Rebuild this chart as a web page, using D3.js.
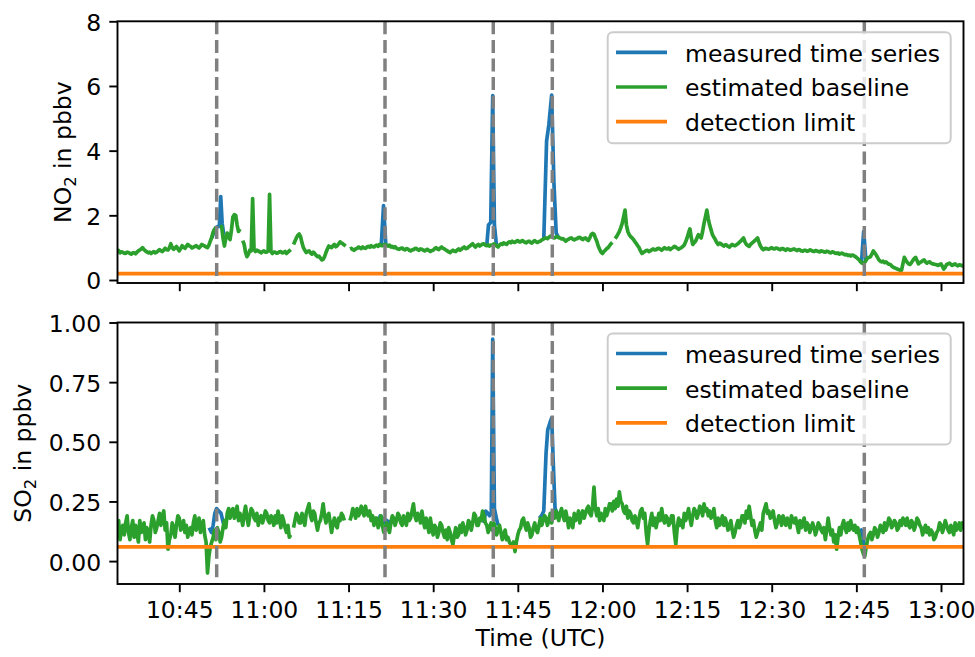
<!DOCTYPE html>
<html><head><meta charset="utf-8">
<script src="https://cdn.jsdelivr.net/npm/d3@7"></script>
<style>
body{margin:0;background:#fff}
svg{display:block}
text{font-family:"DejaVu Sans",sans-serif;fill:#000}
</style>
</head><body>
<svg id="chart" width="975" height="657"></svg>
<script>
// ---------- DATA (minutes after 10:00 UTC) ----------
const gridStartMin = 34;      // first baseline sample, 10:34
const gridStepMin = 0.25;     // 15 s sampling
const xDomainMin = [34.05, 183.99];
const xTickMinutes = [45, 60, 75, 90, 105, 120, 135, 150, 165, 180];

// each row = 5 minutes
const no2Baseline = [
  0.88,0.91,0.84,0.87,0.86,0.83,0.82,0.86,0.85,0.82,0.80,0.84,0.84,0.81,0.86,0.90,0.93,0.96,1.00,0.94,
  0.90,0.87,0.84,0.86,0.82,0.85,0.88,0.84,0.86,0.90,0.94,0.90,0.88,0.93,0.98,0.94,0.93,1.00,1.12,1.00,
  0.95,0.99,1.04,0.96,0.90,0.97,1.06,1.01,0.98,1.04,1.10,1.06,1.04,0.99,1.01,1.04,1.06,1.02,0.99,1.04,
  1.10,1.07,1.05,1.02,1.00,1.08,1.20,1.32,1.48,1.56,1.62,1.60,null,1.64,1.66,1.30,1.05,1.30,1.45,1.32,
  1.25,1.55,1.95,2.02,2.00,1.70,1.50,1.58,null,1.22,1.10,0.85,0.72,0.80,0.92,0.90,2.52,0.95,0.88,0.92,
  0.90,0.87,0.84,0.88,0.90,0.86,0.86,0.90,2.65,0.88,0.82,0.86,0.86,0.83,0.84,0.87,0.88,0.84,0.85,0.88,
  0.82,0.86,0.90,0.94,null,1.10,1.20,1.30,1.38,1.42,1.34,1.15,1.00,0.92,0.85,0.88,0.90,0.84,0.80,0.86,
  0.82,0.76,0.72,0.74,0.68,0.62,0.64,0.72,0.85,0.96,1.05,1.02,1.00,1.06,1.10,1.03,1.06,1.12,1.18,1.14,
  1.12,1.08,1.05,null,null,0.96,0.98,0.94,0.92,0.96,0.98,1.02,1.00,0.97,1.02,0.99,0.98,1.02,1.04,1.01,
  1.06,1.03,1.02,1.06,1.08,1.04,1.10,1.07,1.06,1.09,1.10,1.07,1.05,1.08,1.02,1.04,1.00,1.03,0.98,0.96,
  0.95,0.98,0.99,0.95,0.93,0.97,0.96,0.92,0.90,0.93,0.94,0.97,0.98,0.94,0.92,0.96,0.95,0.92,0.90,0.93,
  0.95,0.91,0.88,0.91,0.92,0.97,1.00,0.96,0.94,0.99,1.02,0.98,0.96,0.93,0.90,0.87,0.85,0.89,0.92,0.89,
  0.88,0.93,0.96,0.92,0.95,0.99,1.02,0.97,0.98,1.02,1.05,1.09,1.12,1.06,1.02,1.07,1.10,1.05,1.08,1.11,
  1.12,1.08,1.06,1.09,1.05,1.08,1.08,1.12,1.10,1.05,1.02,1.08,1.12,1.10,1.15,1.12,1.10,1.15,1.18,1.15,
  1.20,1.17,1.16,1.20,1.22,1.18,1.18,1.22,1.20,1.16,1.15,1.19,1.20,1.16,1.14,1.19,1.22,1.18,1.16,1.19,
  1.20,1.24,1.26,1.29,1.30,1.28,1.32,1.36,1.35,1.31,1.30,1.33,1.34,1.31,1.30,1.27,1.28,1.24,1.20,1.24,
  1.26,1.29,1.30,1.26,1.24,1.27,1.28,1.31,1.32,1.28,1.25,1.29,1.30,1.25,1.22,1.30,1.40,1.44,1.42,1.30,
  1.20,1.05,0.95,0.86,0.82,0.88,0.92,0.97,1.00,1.06,1.12,1.16,null,1.28,1.34,1.42,1.50,1.62,1.75,1.95,
  2.16,1.70,1.50,1.40,1.34,1.30,1.25,1.18,1.13,1.06,1.00,0.90,0.82,0.85,0.88,0.91,0.92,0.88,0.90,0.94,
  0.96,0.93,0.94,0.97,0.98,0.95,0.92,0.96,1.00,0.97,0.96,0.99,0.94,0.98,1.00,1.04,1.02,0.98,0.95,0.98,
  1.00,1.04,1.08,1.18,1.30,1.45,1.58,1.30,1.10,1.15,1.20,1.30,1.40,1.35,1.30,1.50,1.75,1.95,2.16,1.90,
  1.70,1.55,1.40,1.32,1.25,1.16,1.10,1.14,1.12,1.08,1.05,1.09,1.08,1.04,1.02,1.06,1.10,1.07,1.06,1.09,
  1.12,1.16,1.20,1.25,1.30,1.18,1.10,1.07,1.04,1.10,1.14,1.18,1.22,1.26,1.30,1.16,1.05,0.98,0.94,0.97,
  0.98,0.96,0.95,0.98,1.00,0.97,0.96,0.99,0.98,0.95,0.94,0.97,0.97,0.94,0.92,0.96,0.95,0.92,0.93,0.95,
  0.96,0.93,0.91,0.94,0.93,0.90,0.89,0.92,0.92,0.89,0.90,0.93,0.92,0.89,0.88,0.91,0.90,0.88,0.87,0.90,
  0.89,0.87,0.86,0.89,0.88,0.85,0.84,0.87,0.86,0.83,0.82,0.84,0.80,0.82,0.83,0.80,0.78,0.79,0.76,0.77,
  0.74,0.77,0.76,0.73,0.70,0.66,0.62,0.56,0.52,0.50,0.55,0.62,0.68,0.70,0.72,0.80,0.90,0.84,0.78,0.70,
  0.62,0.58,0.56,0.58,0.54,0.56,0.52,0.49,0.48,0.44,0.40,0.38,0.36,0.34,0.32,0.30,0.30,0.50,0.70,0.62,
  0.55,0.50,0.48,0.53,0.60,0.66,0.70,0.60,0.50,0.54,0.56,0.60,0.62,0.56,0.52,0.55,0.56,0.52,0.50,0.49,
  0.48,0.47,0.45,0.48,0.50,0.42,0.34,0.40,0.48,0.50,0.52,0.48,0.45,0.48,0.50,0.46,0.44,0.47,0.46,0.44,
  0.46
];

const so2Baseline = [
  0.13,0.17,0.09,0.13,0.15,0.11,0.16,0.19,0.12,0.09,0.14,0.17,0.10,0.15,0.12,0.08,0.17,0.12,0.13,0.16,
  0.09,0.14,0.12,0.08,0.15,0.19,0.17,0.12,0.14,0.17,0.20,0.15,0.19,0.21,0.13,0.16,0.05,0.09,0.11,0.16,
  0.14,0.10,0.15,0.19,0.18,0.13,0.14,0.17,0.12,0.15,0.10,0.13,0.14,0.11,0.16,0.19,0.13,0.16,0.18,0.12,
  0.14,0.17,0.11,0.08,-0.05,0.02,0.06,0.08,0.10,0.13,0.09,0.14,0.12,0.08,0.10,0.14,0.17,0.14,0.20,0.22,
  0.18,0.21,0.22,0.18,0.20,0.23,0.17,0.20,0.18,0.15,0.20,0.23,0.18,0.15,0.19,0.22,0.21,0.18,0.17,0.20,
  0.15,0.18,0.19,0.16,0.18,0.21,0.20,0.17,0.16,0.19,0.18,0.15,0.19,0.16,0.21,0.18,0.14,0.19,0.17,0.14,
  0.12,0.15,0.10,0.11,null,0.14,0.17,0.20,0.19,0.16,0.16,0.20,0.18,0.15,0.20,0.22,0.24,0.19,0.17,0.21,
  0.20,0.16,0.13,0.16,0.17,0.20,0.24,0.19,0.16,0.19,0.20,0.16,0.12,0.16,0.18,0.15,0.14,0.18,0.17,0.20,
  0.19,0.17,null,null,null,0.17,0.19,0.22,0.21,0.18,0.22,0.19,0.20,0.23,0.21,0.19,0.23,0.20,0.19,0.21,
  0.17,0.19,0.15,0.18,0.18,0.14,0.16,0.19,0.15,0.12,0.13,0.16,0.14,0.12,0.16,0.19,0.18,0.15,0.17,0.20,
  0.19,0.16,0.15,0.19,0.17,0.15,0.20,0.17,0.18,0.21,0.24,0.19,0.17,0.20,0.19,0.16,0.21,0.17,0.14,0.18,
  0.15,0.12,0.18,0.14,0.11,0.15,0.14,0.10,0.12,0.16,0.15,0.12,0.10,0.13,0.09,0.14,0.12,0.09,0.07,0.11,
  0.14,0.10,0.11,0.15,0.12,0.16,0.14,0.11,0.13,0.17,0.16,0.13,0.16,0.20,0.19,0.15,0.15,0.18,0.17,0.21,
  0.19,0.16,0.15,0.12,0.14,0.16,0.13,0.16,0.14,0.11,0.13,0.15,0.12,0.09,0.11,0.13,0.09,0.10,0.08,0.07,
  0.06,0.08,0.04,0.08,0.11,0.13,0.14,0.17,0.18,0.15,0.13,0.16,0.14,0.10,0.11,0.14,0.16,0.13,0.12,0.15,
  0.18,0.15,0.17,0.19,0.18,0.15,0.17,0.20,0.16,0.19,0.18,0.21,0.19,0.17,0.20,0.22,0.19,0.17,0.21,0.18,
  0.14,0.18,0.17,0.14,0.20,0.17,0.18,0.21,0.16,0.19,0.21,0.18,0.20,0.22,0.23,0.20,0.19,0.23,0.31,0.22,
  0.19,0.22,0.17,0.20,0.19,0.17,0.22,0.19,0.21,0.24,0.24,0.21,0.25,0.22,0.26,0.23,0.29,0.25,0.24,0.21,
  0.20,0.23,0.18,0.21,0.20,0.17,0.16,0.19,0.17,0.14,0.18,0.21,0.22,0.18,0.20,0.12,0.07,0.13,0.17,0.20,
  0.15,0.18,0.14,0.17,0.20,0.17,0.22,0.18,0.16,0.19,0.18,0.15,0.16,0.19,0.19,0.12,0.07,0.14,0.18,0.15,
  0.17,0.14,0.20,0.17,0.19,0.22,0.18,0.15,0.19,0.22,0.21,0.18,0.20,0.23,0.22,0.19,0.24,0.21,0.22,0.19,
  0.21,0.18,0.19,0.22,0.17,0.14,0.18,0.15,0.16,0.19,0.15,0.18,0.16,0.13,0.14,0.17,0.13,0.10,0.12,0.15,
  0.17,0.14,0.16,0.19,0.19,0.16,0.21,0.18,0.23,0.19,0.15,0.17,0.13,0.10,0.12,0.14,0.16,0.13,0.20,0.22,
  0.24,0.20,0.21,0.18,0.19,0.21,0.17,0.14,0.16,0.19,0.18,0.15,0.19,0.17,0.15,0.18,0.17,0.14,0.19,0.17,
  0.16,0.18,0.15,0.12,0.17,0.14,0.16,0.18,0.13,0.16,0.15,0.12,0.14,0.16,0.14,0.11,0.13,0.16,0.15,0.13,
  0.12,0.14,0.09,0.13,0.18,0.14,0.11,0.13,0.08,0.11,0.05,0.10,0.14,0.11,0.15,0.17,0.14,0.12,0.16,0.13,
  0.17,0.14,0.13,0.15,0.12,0.14,0.11,0.08,0.05,0.03,0.02,0.06,0.09,0.11,0.12,0.09,0.11,0.14,0.13,0.10,
  0.12,0.15,0.14,0.12,0.16,0.13,0.15,0.18,0.17,0.14,0.15,0.17,0.16,0.13,0.14,0.17,0.15,0.18,0.17,0.15,
  0.18,0.15,0.14,0.17,0.16,0.13,0.15,0.18,0.17,0.15,0.14,0.11,0.13,0.15,0.12,0.14,0.11,0.13,0.12,0.09,
  0.10,0.12,0.13,0.16,0.15,0.12,0.14,0.17,0.15,0.13,0.12,0.15,0.13,0.11,0.16,0.13,0.14,0.16,0.13,0.16,
  0.15
];

// measured time series where it departs from the baseline (plume peaks): [minute, value]
const no2Measured = [
  [[50.8,1.30],[51.2,1.55],[51.5,1.62],[51.8,1.65],[52.1,1.66],[52.35,2.58],[52.6,1.75],[52.9,1.40]],
  [[80.8,1.08],[81.2,2.30],[81.6,1.10]],
  [[99.5,1.08],[99.8,1.70],[100.2,1.78],[100.55,5.70],[100.85,1.70],[101.2,1.10]],
  [[109.6,1.25],[110.1,4.30],[110.5,4.80],[111.0,5.72],[111.4,3.00],[111.8,1.45],[112.2,1.32]],
  [[165.9,0.52],[166.3,1.50],[166.7,0.60]]
];
const so2Measured = [
  [[50.3,0.14],[50.7,0.12],[51.0,0.15],[51.3,0.20],[51.6,0.22],[52.0,0.21],[52.4,0.20],[52.8,0.16],[53.0,0.17]],
  [[80.3,0.15],[80.6,0.19],[81.0,0.18],[81.4,0.16],[81.8,0.17],[82.2,0.16],[82.6,0.17],[83.0,0.16]],
  [[99.0,0.16],[99.3,0.21],[99.7,0.20],[100.0,0.19],[100.3,0.20],[100.55,0.93],[100.85,0.22],[101.2,0.18],[101.5,0.15]],
  [[108.8,0.18],[109.2,0.19],[109.6,0.21],[110.0,0.45],[110.3,0.55],[110.7,0.58],[111.0,0.60],[111.3,0.40],[111.6,0.22],[112.0,0.20],[112.4,0.19]],
  [[165.6,0.12],[165.9,0.13],[166.2,0.10],[166.5,0.04]]
];

const no2DetectionLimit = 0.2;
const so2DetectionLimit = 0.06;
const plumeEventMinutes = [51.63, 81.46, 100.65, 111.11, 166.41];

const no2YTicks = [0, 2, 4, 6, 8];
const so2YTicks = [0, 0.25, 0.5, 0.75, 1.0];
const legendLabels = ["measured time series", "estimated baseline", "detection limit"];

// ---------- DRAWING ----------
const T0 = Date.UTC(2023, 0, 1, 10, 0, 0);
const toDate = m => new Date(T0 + m * 60000);
const colors = {measured: "#1f77b4", baseline: "#2ca02c", limit: "#ff7f0e", event: "#808080"};
const FS = 23.5;
const LW = 3.7;

const svg = d3.select("#chart");
const left = 117.5, right = 963.5;
const x = d3.scaleUtc().domain(xDomainMin.map(toDate)).range([left, right]);

const panels = [
  {id: "no2", top: 21.3, bottom: 283, yDomain: [-0.0928, 8], ticks: no2YTicks, fmt: d3.format("d"),
   baseline: no2Baseline, measured: no2Measured, limit: no2DetectionLimit, label: ["NO", "2", " in pbbv"], labelX: 70.5, xLabels: false},
  {id: "so2", top: 322.5, bottom: 584, yDomain: [-0.096, 1.0], ticks: so2YTicks, fmt: d3.format(".2f"),
   baseline: so2Baseline, measured: so2Measured, limit: so2DetectionLimit, label: ["SO", "2", " in ppbv"], labelX: 30.5, xLabels: true}
];

panels.forEach(p => {
  const y = d3.scaleLinear().domain(p.yDomain).range([p.bottom, p.top]);
  const clipId = "clip-" + p.id;
  svg.append("clipPath").attr("id", clipId).append("rect")
    .attr("x", left).attr("y", p.top).attr("width", right - left).attr("height", p.bottom - p.top);
  const g = svg.append("g").attr("clip-path", `url(#${clipId})`);

  const line = d3.line().defined(d => d.v !== null).x(d => x(d.t)).y(d => y(d.v));

  // measured (blue) under the baseline
  p.measured.forEach(seg => {
    g.append("path").datum(seg.map(([m, v]) => ({t: toDate(m), v})))
      .attr("d", line).attr("fill", "none").attr("stroke", colors.measured)
      .attr("stroke-width", LW).attr("stroke-linejoin", "round");
  });
  // baseline (green)
  const base = p.baseline.map((v, i) => ({t: toDate(gridStartMin + i * gridStepMin), v}));
  g.append("path").datum(base).attr("d", line).attr("fill", "none")
    .attr("stroke", colors.baseline).attr("stroke-width", LW).attr("stroke-linejoin", "round");
  // detection limit
  g.append("line").attr("x1", left).attr("x2", right)
    .attr("y1", y(p.limit)).attr("y2", y(p.limit))
    .attr("stroke", colors.limit).attr("stroke-width", LW);
  // plume events
  plumeEventMinutes.forEach(m => {
    g.append("line").attr("x1", x(toDate(m))).attr("x2", x(toDate(m)))
      .attr("y1", p.top).attr("y2", p.bottom)
      .attr("stroke", colors.event).attr("stroke-width", 3.5)
      .attr("stroke-dasharray", "13,5.6");
  });

  // frame
  svg.append("rect").attr("x", left).attr("y", p.top).attr("width", right - left).attr("height", p.bottom - p.top)
    .attr("fill", "none").attr("stroke", "#000").attr("stroke-width", 1.9);

  // y axis
  const yAxis = d3.axisLeft(y).tickValues(p.ticks).tickFormat(p.fmt).tickSize(8.2).tickPadding(8.2);
  const ya = svg.append("g").attr("transform", `translate(${left},0)`).call(yAxis);
  ya.select(".domain").remove();
  ya.selectAll("line").attr("stroke", "#000").attr("stroke-width", 1.9);
  ya.selectAll("text").attr("font-size", FS).attr("font-family", "DejaVu Sans").attr("dy", "0.38em");

  // x axis
  const xAxis = d3.axisBottom(x).tickValues(xTickMinutes.map(toDate))
    .tickFormat(p.xLabels ? d3.utcFormat("%H:%M") : () => "").tickSize(8.2).tickPadding(8.2);
  const xa = svg.append("g").attr("transform", `translate(0,${p.bottom})`).call(xAxis);
  xa.select(".domain").remove();
  xa.selectAll("line").attr("stroke", "#000").attr("stroke-width", 1.9);
  xa.selectAll("text").attr("font-size", FS).attr("font-family", "DejaVu Sans").attr("dy", "0.76em");

  // y label with subscript
  const cy = (p.top + p.bottom) / 2;
  const yl = svg.append("text").attr("transform", `translate(${p.labelX},${cy}) rotate(-90)`)
    .attr("text-anchor", "middle").attr("font-size", FS);
  yl.append("tspan").text(p.label[0]);
  yl.append("tspan").attr("font-size", FS * 0.7).attr("dy", 5).text(p.label[1]);
  yl.append("tspan").attr("dy", -5).text(p.label[2]);

  // legend
  const lx = 607.7, ly = p.top + 11, lw = 343, lh = 111;
  const lg = svg.append("g");
  lg.append("rect").attr("x", lx).attr("y", ly).attr("width", lw).attr("height", lh)
    .attr("rx", 5).attr("fill", "#fff").attr("fill-opacity", 0.8)
    .attr("stroke", "#cccccc").attr("stroke-width", 2);
  const legColors = [colors.measured, colors.baseline, colors.limit];
  legendLabels.forEach((lab, i) => {
    const ry = ly + 20 + i * 34.7;
    lg.append("line").attr("x1", 616).attr("x2", 667).attr("y1", ry).attr("y2", ry)
      .attr("stroke", legColors[i]).attr("stroke-width", LW);
    lg.append("text").attr("x", 685).attr("y", ry + 9.4).attr("font-size", FS).text(lab);
  });
});

// x label
svg.append("text").attr("x", (left + right) / 2).attr("y", 646).attr("text-anchor", "middle")
  .attr("font-size", FS).text("Time (UTC)");
</script>
</body></html>
